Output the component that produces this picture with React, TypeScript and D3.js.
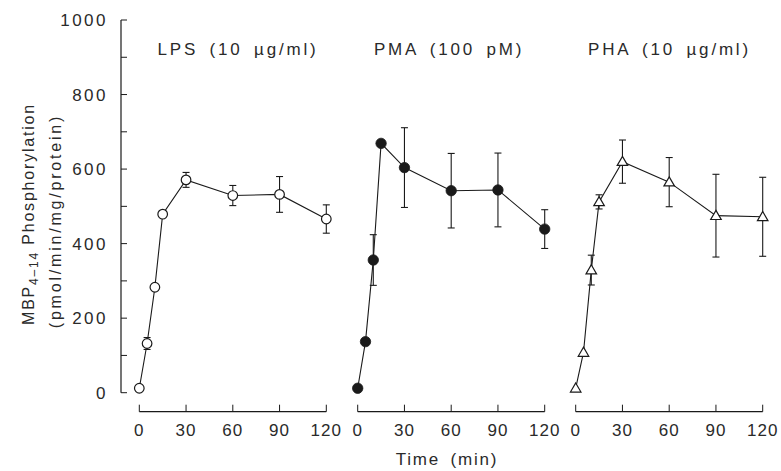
import React from "react";
import * as d3 from "d3";

const times = [0, 5, 10, 15, 30, 60, 90, 120];
const lpsMean = [12, 132, 283, 479, 571, 529, 532, 466];
const lpsErr = [0, 16, 0, 0, 20, 27, 48, 38];
const pmaMean = [12, 137, 356, 669, 604, 542, 544, 439];
const pmaErr = [0, 0, 68, 0, 107, 100, 99, 52];
const phaMean = [12, 108, 329, 512, 620, 565, 475, 472];
const phaErr = [0, 0, 40, 19, 58, 66, 111, 106];
const panelTitles = ["LPS (10 \u00b5g/ml)", "PMA (100 pM)", "PHA (10 \u00b5g/ml)"];
const markerKinds = ["openCircle", "filledCircle", "openTriangle"];
const xTicks = [0, 30, 60, 90, 120];
const yTicks = [0, 200, 400, 600, 800, 1000];
const yMinorTicks = d3.range(0, 1001, 100);

const W = 781;
const H = 471;
const FONT = "'Liberation Sans', Arial, Helvetica, sans-serif";
const INK = "#1a1a1a";
const TEXT = "#2a2a2a";

const panelLeft = [139.3, 357.7, 575.7];
const panelWidth = 187;
const titleX = [238, 449, 669.5];
const axisY = 411.7;
const yAxisX = 121;

const y = d3.scaleLinear().domain([0, 1000]).range([392.7, 20]);

const series = [
  { mean: lpsMean, err: lpsErr },
  { mean: pmaMean, err: pmaErr },
  { mean: phaMean, err: phaErr },
];

function Marker({ kind, cx, cy }: { kind: string; cx: number; cy: number }) {
  if (kind === "openCircle")
    return <circle cx={cx} cy={cy} r={4.8} fill="#fff" stroke={INK} strokeWidth={1.2} />;
  if (kind === "filledCircle")
    return <circle cx={cx} cy={cy} r={5.2} fill={INK} stroke={INK} strokeWidth={0.8} />;
  const sym = d3.symbol().type(d3.symbolTriangle).size(48)();
  return (
    <path
      d={sym as string}
      transform={`translate(${cx},${cy + 0.8})`}
      fill="#fff"
      stroke={INK}
      strokeWidth={1.2}
    />
  );
}

export default function App() {
  return (
    <svg width={W} height={H} style={{ display: "block", position: "absolute", left: 0, top: 0 }}>
      <rect width={W} height={H} fill="#fff" />
      {/* Y axis */}
      <line x1={yAxisX} x2={yAxisX} y1={y(0)} y2={y(1000)} stroke={INK} strokeWidth={1.2} />
      {yMinorTicks.map((t) => (
        <line key={t} x1={yAxisX} x2={yAxisX + 6} y1={y(t)} y2={y(t)} stroke={INK} strokeWidth={1} />
      ))}
      {yTicks.map((t) => (
        <text
          key={t}
          x={108}
          y={y(t) + 6}
          textAnchor="end"
          fontFamily={FONT}
          fontSize={17}
          letterSpacing={2.5}
          fill={TEXT}
        >
          {t}
        </text>
      ))}
      {/* Y label */}
      <g transform="translate(34,214) rotate(-90)">
        <text textAnchor="middle" fontFamily={FONT} fontSize={16} letterSpacing={1.8} fill={TEXT}>
          MBP
          <tspan fontSize={12} dy={4}>{"4\u201314"}</tspan>
          <tspan dy={-4}>{" Phosphorylation"}</tspan>
        </text>
      </g>
      <g transform="translate(61,221) rotate(-90)">
        <text textAnchor="middle" fontFamily={FONT} fontSize={16} letterSpacing={2.8} fill={TEXT}>
          (pmol/min/mg/protein)
        </text>
      </g>
      {series.map((s, i) => {
        const x = d3.scaleLinear().domain([0, 120]).range([panelLeft[i], panelLeft[i] + panelWidth]);
        const line = d3
          .line<number>()
          .x((_, j) => x(times[j]))
          .y((d) => y(d));
        return (
          <g key={i}>
            <text
              x={titleX[i]}
              y={55}
              textAnchor="middle"
              fontFamily={FONT}
              fontSize={17}
              letterSpacing={2.8}
              wordSpacing={4}
              fill={TEXT}
            >
              {panelTitles[i]}
            </text>
            {/* x axis */}
            <line x1={x(0)} x2={x(120)} y1={axisY} y2={axisY} stroke={INK} strokeWidth={1.2} />
            {xTicks.map((t) => (
              <g key={t}>
                <line x1={x(t)} x2={x(t)} y1={axisY} y2={axisY - 7} stroke={INK} strokeWidth={1} />
                <text
                  x={x(t)}
                  y={436}
                  textAnchor="middle"
                  fontFamily={FONT}
                  fontSize={17}
                  letterSpacing={1}
                  fill={TEXT}
                >
                  {t}
                </text>
              </g>
            ))}
            <path d={line(s.mean) as string} fill="none" stroke={INK} strokeWidth={1.1} />
            {s.mean.map((m, j) =>
              s.err[j] > 0 ? (
                <g key={"e" + j} stroke={INK} strokeWidth={1.1}>
                  <line x1={x(times[j])} x2={x(times[j])} y1={y(m - s.err[j])} y2={y(m + s.err[j])} />
                  <line x1={x(times[j]) - 3.5} x2={x(times[j]) + 3.5} y1={y(m - s.err[j])} y2={y(m - s.err[j])} />
                  <line x1={x(times[j]) - 3.5} x2={x(times[j]) + 3.5} y1={y(m + s.err[j])} y2={y(m + s.err[j])} />
                </g>
              ) : null
            )}
            {s.mean.map((m, j) => (
              <Marker key={"m" + j} kind={markerKinds[i]} cx={x(times[j])} cy={y(m)} />
            ))}
          </g>
        );
      })}
      <text
        x={447}
        y={465}
        textAnchor="middle"
        fontFamily={FONT}
        fontSize={17}
        letterSpacing={1.8}
        wordSpacing={4}
        fill={TEXT}
      >
        Time (min)
      </text>
    </svg>
  );
}
